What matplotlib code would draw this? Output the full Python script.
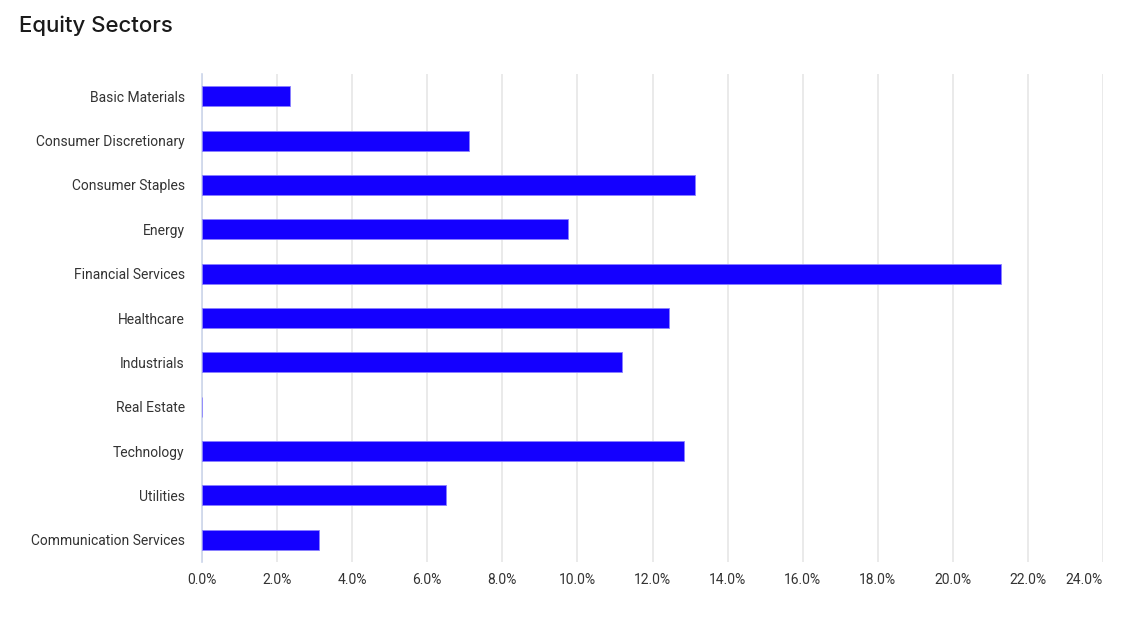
import matplotlib
matplotlib.use("Agg")
import matplotlib.pyplot as plt

# 数据
sectors = ["Basic Materials", "Consumer Discretionary", "Consumer Staples", "Energy",
           "Financial Services", "Healthcare", "Industrials", "Real Estate",
           "Technology", "Utilities", "Communication Services"]
weights = [2.34, 7.11, 13.13, 9.75, 21.28, 12.44, 11.19, 0.01, 12.84, 6.50, 3.12]
x_ticks = [0, 2, 4, 6, 8, 10, 12, 14, 16, 18, 20, 22, 24]
x_tick_labels = [f"{t:.1f}%" for t in x_ticks]

plt.rcParams['font.family'] = ['Roboto', 'DejaVu Sans']

fig = plt.figure(figsize=(11.33, 6.17), dpi=100)
ax = fig.add_axes([202 / 1133, 1 - 562 / 617, 901 / 1133, 488 / 617])

y = list(range(len(sectors)))
ax.barh(y, weights, height=0.45, color="#1400ff", edgecolor="#8a80ff", linewidth=0.6, zorder=3)

ax.set_xlim(0, 24)
ax.set_ylim(len(sectors) - 0.5, -0.5)
ax.set_yticks(y)
ax.set_yticklabels(sectors)
ax.set_xticks(x_ticks)
ax.set_xticklabels(x_tick_labels)
ax.get_xticklabels()[-1].set_horizontalalignment("right")

# pad 单位是 point
ax.tick_params(axis="both", length=0, labelsize=10, labelcolor="#333333")
ax.tick_params(axis="y", pad=12.5)
ax.tick_params(axis="x", pad=8)

ax.grid(axis="x", color="#e6e6e6", linewidth=1.2, zorder=0)
for side in ["top", "right", "bottom"]:
    ax.spines[side].set_visible(False)
ax.spines["left"].set_color("#ccd6eb")
ax.spines["left"].set_linewidth(1.2)

fig.text(19 / 1133, 1 - 26 / 617, "Equity Sectors", fontsize=16, color="#1a1a1a",
         family=["Inter", "DejaVu Sans"], weight="medium", va="center", ha="left")

fig.savefig("out.png", dpi=100)
